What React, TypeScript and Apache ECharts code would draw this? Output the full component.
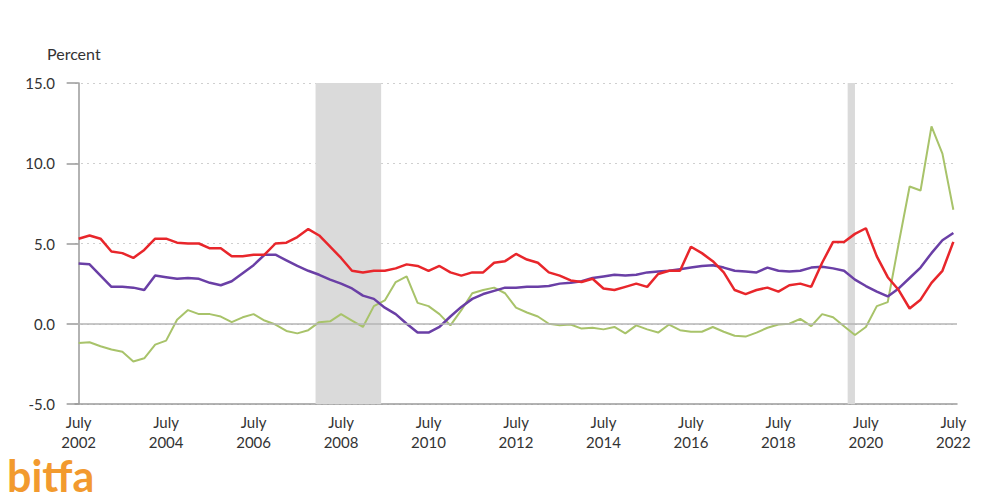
import React, { useEffect, useRef } from "react";
import * as echarts from "echarts";

// Quarterly readings, July 2002 .. July 2022 (index i => month offset i*3 from July 2002)
const startYear = 2002;
const yTicks = [-5, 0, 5, 10, 15];
const xLabelMonths = [0, 24, 48, 72, 96, 120, 144, 168, 192, 216, 240];

const redValues = [
  5.3, 5.5, 5.3, 4.5, 4.4, 4.1, 4.6, 5.3, 5.3, 5.05,
  5.0, 5.0, 4.7, 4.7, 4.2, 4.2, 4.3, 4.3, 5.0, 5.05,
  5.4, 5.9, 5.5, 4.8, 4.1, 3.3, 3.2, 3.3, 3.3, 3.45,
  3.7, 3.6, 3.3, 3.6, 3.2, 3.0, 3.2, 3.2, 3.8, 3.9,
  4.35, 4.0, 3.8, 3.2, 3.0, 2.7, 2.6, 2.8, 2.2, 2.1,
  2.3, 2.5, 2.3, 3.1, 3.3, 3.3, 4.8, 4.4, 3.9, 3.2,
  2.1, 1.85, 2.1, 2.25, 2.0, 2.4, 2.5, 2.3, 3.8, 5.1,
  5.1, 5.6, 5.95, 4.2, 2.9, 2.1, 0.95, 1.5, 2.55, 3.3, 5.1,
];

const purpleValues = [
  3.75, 3.7, 3.0, 2.3, 2.3, 2.25, 2.1, 3.0, 2.9, 2.8,
  2.85, 2.8, 2.55, 2.4, 2.65, 3.15, 3.65, 4.3, 4.3, 3.95,
  3.6, 3.3, 3.05, 2.75, 2.5, 2.2, 1.75, 1.55, 1.0, 0.6,
  0.0, -0.55, -0.55, -0.2, 0.45, 1.05, 1.55, 1.85, 2.05, 2.25,
  2.25, 2.3, 2.3, 2.35, 2.5, 2.55, 2.65, 2.85, 2.95, 3.05,
  3.0, 3.05, 3.2, 3.25, 3.3, 3.4, 3.5, 3.6, 3.65, 3.5,
  3.3, 3.25, 3.2, 3.5, 3.3, 3.25, 3.3, 3.5, 3.55, 3.45,
  3.3, 2.75, 2.35, 2.0, 1.7, 2.2, 2.85, 3.5, 4.4, 5.2, 5.65,
];

const greenValues = [
  -1.2, -1.15, -1.4, -1.6, -1.75, -2.35, -2.15, -1.3, -1.05, 0.25,
  0.85, 0.6, 0.6, 0.45, 0.1, 0.4, 0.6, 0.2, -0.05, -0.45,
  -0.6, -0.4, 0.1, 0.15, 0.6, 0.2, -0.2, 1.1, 1.45, 2.6,
  2.95, 1.3, 1.1, 0.6, -0.1, 0.85, 1.9, 2.1, 2.25, 1.9,
  1.0, 0.7, 0.45, 0.0, -0.1, -0.05, -0.3, -0.25, -0.35, -0.2,
  -0.6, -0.1, -0.35, -0.55, -0.05, -0.4, -0.5, -0.5, -0.2, -0.5,
  -0.75, -0.8, -0.55, -0.25, -0.05, 0.0, 0.3, -0.15, 0.6, 0.4,
  -0.15, -0.7, -0.2, 1.1, 1.35, 5.0, 8.55, 8.3, 12.3, 10.6, 7.1,
];

// Recessions as month offsets from July 2002 (Dec 2007 - Jun 2009, Feb 2020 - Apr 2020)
const recessions: [number, number][] = [
  [65, 83],
  [211, 213],
];

const toPairs = (vals: number[]) => vals.map((v, i) => [i * 3, v]);

const FONT = "Lato, 'Open Sans', sans-serif";

export default function App() {
  const ref = useRef<HTMLDivElement>(null);
  useEffect(() => {
    if (!ref.current) return;
    const chart = echarts.init(ref.current, undefined, { renderer: "svg" });
    chart.setOption({
      animation: false,
      backgroundColor: "#ffffff",
      grid: { left: 75, right: 43, top: 83, bottom: 96, containLabel: false },
      graphic: [
        {
          type: "text",
          left: 47,
          top: 45,
          style: { text: "Percent", font: `16px ${FONT}`, fill: "#333333" },
        },
        {
          type: "text",
          left: 7,
          top: 454,
          style: { text: "bitfa", font: `bold 43px ${FONT}`, fill: "#f29a2e" },
        },
      ],
      xAxis: {
        type: "value",
        min: -1,
        max: 241,
        axisLine: { show: true, onZero: false, lineStyle: { color: "#9a9a9a", width: 1.5 } },
        axisTick: { show: false },
        splitLine: { show: false },
        axisLabel: {
          customValues: xLabelMonths,
          formatter: (v: number) => `July\n${startYear + Math.round(v / 12)}`,
          color: "#333333",
          fontFamily: FONT,
          fontSize: 15,
          lineHeight: 20,
          margin: 8,
        },
      },
      yAxis: {
        type: "value",
        min: yTicks[0],
        max: yTicks[yTicks.length - 1],
        interval: 5,
        axisLine: { show: true, lineStyle: { color: "#9a9a9a", width: 1.5 } },
        axisTick: { show: true, length: 12, lineStyle: { color: "#9a9a9a", width: 1.5 } },
        splitLine: {
          show: true,
          lineStyle: { color: "#cfcfcf", type: [2, 4], width: 1 },
        },
        axisLabel: {
          formatter: (v: number) => v.toFixed(1),
          color: "#333333",
          fontFamily: FONT,
          fontSize: 15,
          margin: 20,
        },
      },
      series: [
        {
          name: "bands",
          type: "line",
          data: [],
          z: 1,
          silent: true,
          markArea: {
            silent: true,
            itemStyle: { color: "#dadada", opacity: 1 },
            data: recessions.map(([a, b]) => [{ xAxis: a }, { xAxis: b }]),
          },
          markLine: {
            silent: true,
            symbol: "none",
            label: { show: false },
            lineStyle: { color: "#b5b5b5", type: "solid", width: 1.5 },
            data: [{ yAxis: 0 }],
          },
        },
        {
          name: "Green",
          type: "line",
          data: toPairs(greenValues),
          showSymbol: false,
          z: 3,
          lineStyle: { color: "#a8c36a", width: 2 },
          itemStyle: { color: "#a8c36a" },
        },
        {
          name: "Purple",
          type: "line",
          data: toPairs(purpleValues),
          showSymbol: false,
          z: 4,
          lineStyle: { color: "#6a3fa6", width: 2.5 },
          itemStyle: { color: "#6a3fa6" },
        },
        {
          name: "Red",
          type: "line",
          data: toPairs(redValues),
          showSymbol: false,
          z: 5,
          lineStyle: { color: "#e8262b", width: 2.5 },
          itemStyle: { color: "#e8262b" },
        },
      ],
    });
    return () => chart.dispose();
  }, []);
  return <div ref={ref} style={{ width: 1000, height: 500, position: "absolute", left: 0, top: 0 }} />;
}
